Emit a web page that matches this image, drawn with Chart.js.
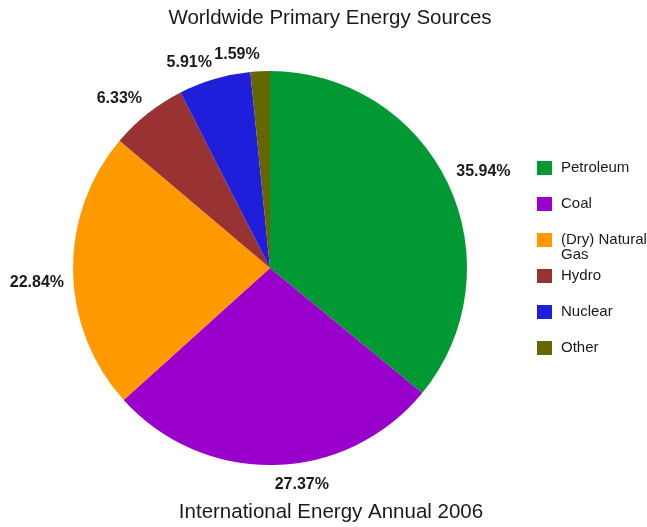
<!DOCTYPE html>
<html>
<head>
<meta charset="utf-8">
<script src="https://cdn.jsdelivr.net/npm/chart.js@4.4.1/dist/chart.umd.min.js"></script>
<style>
  html, body { margin: 0; padding: 0; background: #fff; }
  #wrap { width: 647px; height: 527px; position: relative; }
</style>
</head>
<body>
<div id="wrap"><canvas id="pieChart" width="647" height="527"></canvas></div>
<script>
const sources = ['Petroleum', 'Coal', '(Dry) Natural Gas', 'Hydro', 'Nuclear', 'Other'];
const legendLines = [['Petroleum'], ['Coal'], ['(Dry) Natural', 'Gas'], ['Hydro'], ['Nuclear'], ['Other']];
const shares = [35.94, 27.37, 22.84, 6.33, 5.91, 1.59];
const sliceColors = ['#009933', '#9900cc', '#ff9900', '#993333', '#1f1fdb', '#666600'];
const chartTitle = 'Worldwide Primary Energy Sources';
const chartSubtitle = 'International Energy Annual 2006';

const FONT = '"Liberation Sans", Arial, sans-serif';

// percent labels just outside each slice, aligned away from the pie
const outsideLabels = {
    id: 'outsideLabels',
    afterDatasetsDraw(chart) {
        const ctx = chart.ctx;
        const meta = chart.getDatasetMeta(0);
        ctx.save();
        ctx.font = 'bold 16px ' + FONT;
        ctx.fillStyle = '#1a1a1a';
        meta.data.forEach((arc, i) => {
            const mid = (arc.startAngle + arc.endAngle) / 2;
            const d = arc.outerRadius + 9;
            const x = arc.x + Math.cos(mid) * d;
            const y = arc.y + Math.sin(mid) * d;
            ctx.textAlign = Math.cos(mid) >= 0 ? 'left' : 'right';
            ctx.textBaseline = Math.sin(mid) < 0 ? 'bottom' : 'top';
            ctx.fillText(shares[i].toFixed(2) + '%', x, y + (Math.sin(mid) < 0 ? 0 : 3));
        });
        ctx.restore();
    }
};

// title, bottom caption and the right-hand legend
const frameText = {
    id: 'frameText',
    afterDraw(chart) {
        const ctx = chart.ctx;
        ctx.save();
        ctx.fillStyle = '#1a1a1a';
        ctx.font = '20.5px ' + FONT;
        ctx.textAlign = 'center';
        ctx.textBaseline = 'middle';
        ctx.fillText(chartTitle, 330, 18);
        ctx.fillText(chartSubtitle, 331, 512);

        ctx.font = '15px ' + FONT;
        ctx.textAlign = 'left';
        legendLines.forEach((lines, i) => {
            const y = 168 + i * 36;
            ctx.fillStyle = sliceColors[i];
            ctx.fillRect(537, y - 7, 15, 14);
            ctx.fillStyle = '#1a1a1a';
            lines.forEach((t, j) => ctx.fillText(t, 561, y + j * 15));
        });
        ctx.restore();
    }
};

new Chart(document.getElementById('pieChart'), {
    type: 'pie',
    data: {
        labels: sources,
        datasets: [{
            data: shares,
            backgroundColor: sliceColors,
            borderWidth: 0
        }]
    },
    options: {
        responsive: false,
        animation: false,
        layout: { padding: { left: 73, right: 180, top: 71, bottom: 62 } },
        plugins: {
            legend: { display: false },
            title: { display: false },
            tooltip: { enabled: false }
        }
    },
    plugins: [outsideLabels, frameText]
});
</script>
</body>
</html>
